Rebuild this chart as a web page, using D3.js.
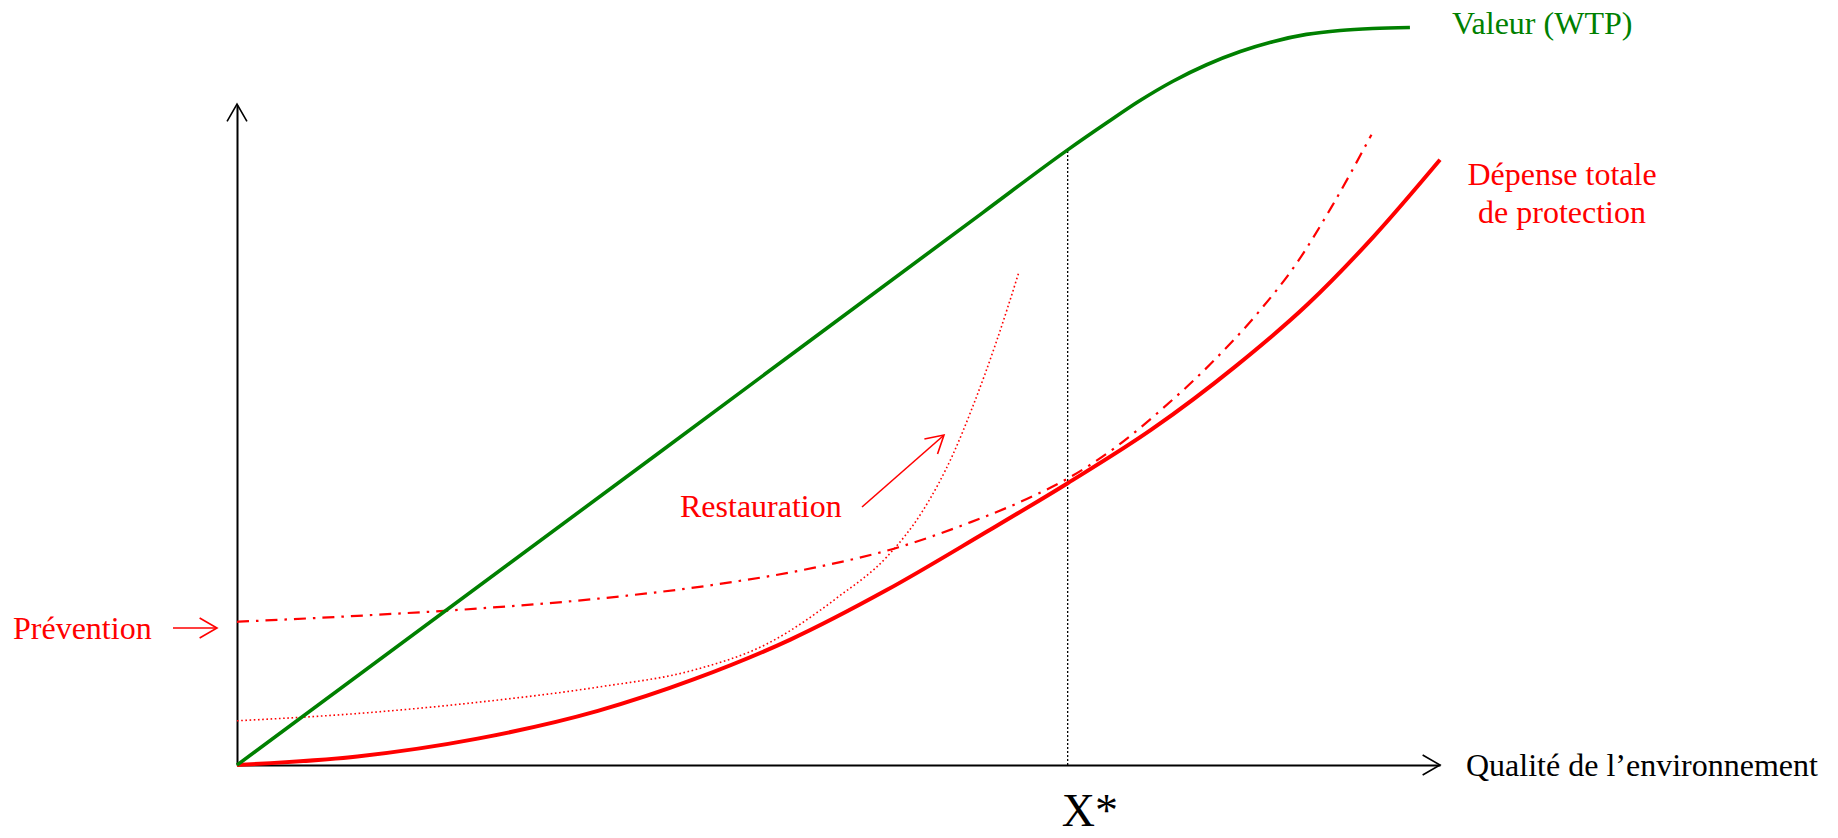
<!DOCTYPE html>
<meta charset="utf-8">
<style>
body { margin: 0; background: #fff; }
svg { display: block; font-family: "Liberation Serif", "Times New Roman", serif; }
.axis .domain { stroke: #000; stroke-width: 2; }
</style>
<svg width="1838" height="838"></svg>
<script src="https://cdn.jsdelivr.net/npm/d3@7/dist/d3.min.js"></script>
<script>

// values (x: quality 0..100, y: money 0..100)
var wtpX = [0, 35, 62, 69.05, 72.3, 75.0, 77.8, 80.6, 83.4, 86.1, 88.9, 91.7, 94.4, 97.5];
var wtpY = [0, 47.2, 83.7, 93.2, 97.3, 100.6, 103.6, 106.1, 108.1, 109.6, 110.7, 111.3, 111.6, 111.75];

var depenseX = [0, 10, 20, 30, 38, 46, 54, 62, 69.05, 76, 83, 89, 94.5, 100];
var depenseY = [0, 1.3, 4.0, 8.2, 13.0, 19.0, 26.5, 35.0, 42.7, 50.8, 60.4, 69.8, 80.1, 91.7];

var preventionX = [0, 10, 20, 30, 40, 48, 55, 61, 66, 69.05, 73, 77, 81, 85, 88, 91, 94.3];
var preventionY = [21.7, 22.6, 23.7, 25.2, 27.4, 29.9, 33.0, 36.8, 40.6, 43.4, 48.1, 54.1, 60.9, 68.8, 75.8, 84.6, 95.5];

var restaurationX = [0, 10, 20, 30, 38, 44, 50, 54, 57, 59.5, 61.2, 63.1, 65.0];
var restaurationY = [6.7, 7.8, 9.5, 11.8, 14.4, 18.3, 25.5, 31.5, 38.5, 47.0, 54.5, 64.0, 74.7];

var xStar = 69.05, xStarValue = 93.2;

var svg = d3.select("svg");
var x = d3.scaleLinear().domain([0, 100]).range([237, 1440]);
var y = d3.scaleLinear().domain([0, 100]).range([765, 105]);

var line = d3.line()
    .x(function(d) { return x(d[0]); })
    .y(function(d) { return y(d[1]); })
    .curve(d3.curveMonotoneX);

function pts(xs, ys) { return xs.map(function(v, i) { return [v, ys[i]]; }); }

// axes (no ticks, just the lines + open arrow heads)
svg.append("g").attr("class", "axis")
    .attr("transform", "translate(0," + y(0) + ")")
    .call(d3.axisBottom(x).ticks(0).tickSizeOuter(0));
svg.append("g").attr("class", "axis")
    .attr("transform", "translate(" + x(0) + ",0)")
    .call(d3.axisLeft(y).ticks(0).tickSizeOuter(0));

function chevron(tx, ty, ang, len, spread, color, w) {
  var a1 = ang + Math.PI - spread, a2 = ang + Math.PI + spread;
  svg.append("path")
      .attr("d", "M" + (tx + len * Math.cos(a1)) + "," + (ty + len * Math.sin(a1)) +
                 "L" + tx + "," + ty +
                 "L" + (tx + len * Math.cos(a2)) + "," + (ty + len * Math.sin(a2)))
      .attr("fill", "none").attr("stroke", color).attr("stroke-width", w);
}
chevron(x(100), y(0), 0, 20, 0.52, "#000", 1.6);
chevron(x(0), y(100) - 1, -Math.PI / 2, 20, 0.52, "#000", 1.6);

// X* guide
svg.append("line")
    .attr("x1", x(xStar)).attr("x2", x(xStar))
    .attr("y1", y(0)).attr("y2", y(xStarValue))
    .attr("stroke", "#000").attr("stroke-width", 1.3)
    .attr("stroke-dasharray", "2,2");

// curves
svg.append("path").datum(pts(restaurationX, restaurationY))
    .attr("d", line).attr("fill", "none")
    .attr("stroke", "#ff0000").attr("stroke-width", 1.6)
    .attr("stroke-dasharray", "1.6,2.6");

svg.append("path").datum(pts(depenseX, depenseY))
    .attr("d", line).attr("fill", "none")
    .attr("stroke", "#ff0000").attr("stroke-width", 4);

svg.append("path").datum(pts(preventionX, preventionY))
    .attr("d", line).attr("fill", "none")
    .attr("stroke", "#ff0000").attr("stroke-width", 2.2)
    .attr("stroke-dasharray", "12,7,2.5,7");

svg.append("path").datum(pts(wtpX, wtpY))
    .attr("d", line).attr("fill", "none")
    .attr("stroke", "#008000").attr("stroke-width", 3.6);

// labels
svg.append("text").attr("x", 1452).attr("y", 34)
    .attr("font-size", 32).attr("fill", "#008000").text("Valeur (WTP)");

var dep = svg.append("text").attr("text-anchor", "middle")
    .attr("font-size", 32).attr("fill", "#ff0000");
dep.append("tspan").attr("x", 1562).attr("y", 185).text("Dépense totale");
dep.append("tspan").attr("x", 1562).attr("y", 223).text("de protection");

svg.append("text").attr("x", x(100) + 26).attr("y", y(0) + 11)
    .attr("font-size", 32).attr("fill", "#000").text("Qualité de l\u2019environnement");

svg.append("text").attr("x", x(xStar) - 6).attr("y", 826)
    .attr("font-size", 46).attr("fill", "#000").text("X*");

svg.append("text").attr("x", 13).attr("y", 639)
    .attr("font-size", 32).attr("fill", "#ff0000").text("Prévention");
svg.append("line").attr("x1", 173).attr("y1", 628).attr("x2", 216).attr("y2", 628)
    .attr("stroke", "#ff0000").attr("stroke-width", 1.6);
chevron(217, 628, 0, 20, 0.52, "#ff0000", 1.6);

svg.append("text").attr("x", 680).attr("y", 517)
    .attr("font-size", 32).attr("fill", "#ff0000").text("Restauration");
svg.append("line").attr("x1", 862).attr("y1", 507).attr("x2", 943).attr("y2", 436)
    .attr("stroke", "#ff0000").attr("stroke-width", 1.6);
chevron(944, 435, Math.atan2(-72, 82), 20, 0.52, "#ff0000", 1.6);

</script>
